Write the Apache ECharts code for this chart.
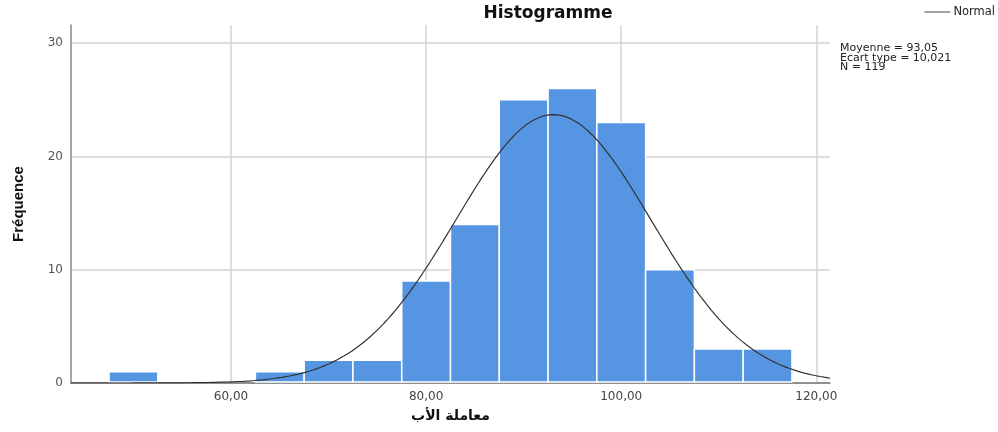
<!DOCTYPE html>
<html>
<head>
<meta charset="utf-8">
<script src="https://cdn.jsdelivr.net/npm/echarts@6/dist/echarts.min.js"></script>
<style>
  html, body { margin: 0; padding: 0; background: #fff; }
  #chart { width: 998px; height: 432px; }
</style>
</head>
<body>
<div id="chart"></div>
<script>
// Histogram bins (width 5) and their frequencies
const binStarts = [47.5, 52.5, 57.5, 62.5, 67.5, 72.5, 77.5, 82.5, 87.5, 92.5, 97.5, 102.5, 107.5, 112.5];
const binWidth = 5;
const frequencies = [1, 0, 0, 1, 2, 2, 9, 14, 25, 26, 23, 10, 3, 3];

// Fitted normal curve parameters
const mean = 93.05;
const stdDev = 10.021;
const sampleSize = 119;

// Axis tick labels
const xTicks = [60, 80, 100, 120];
const yTicks = [0, 10, 20, 30];

const xMin = 43.6, xMax = 121.4, yMax = 31.6;

const bars = binStarts.map((s, i) => [s, s + binWidth, frequencies[i]]);

// Normal density scaled to counts per bin
const curve = [];
for (let x = xMin; x <= xMax + 1e-9; x += 0.2) {
  const z = (x - mean) / stdDev;
  const y = sampleSize * binWidth / (stdDev * Math.sqrt(2 * Math.PI)) * Math.exp(-0.5 * z * z);
  curve.push([x, y]);
}

const fmt = v => v.toFixed(2).replace('.', ',');
const labelFont = 'DejaVu Sans, sans-serif';

const chart = echarts.init(document.getElementById('chart'), null, { renderer: 'canvas' });
chart.setOption({
  animation: false,
  backgroundColor: '#fff',
  textStyle: { fontFamily: labelFont },
  grid: { left: 71, right: 168, top: 25, bottom: 49 },
  title: {
    text: 'Histogramme',
    left: 543, top: 0, textAlign: 'center',
    textStyle: { fontSize: 17, fontWeight: 'bold', color: '#111', fontFamily: labelFont }
  },
  legend: {
    right: 3, top: 6, padding: 0,
    itemWidth: 26, itemHeight: 10, itemGap: 4,
    data: [{ name: 'Normal', icon: 'path://M0,4.4L26,4.4L26,5.6L0,5.6Z' }],
    itemStyle: { color: '#666' },
    textStyle: { fontSize: 11.5, color: '#222', fontFamily: labelFont, padding: [0, 0, 0, -2] }
  },
  graphic: [{
    type: 'text', left: 840, top: 43,
    style: {
      text: 'Moyenne = 93,05\nEcart type = 10,021\nN = 119',
      font: '11px DejaVu Sans, sans-serif',
      fill: '#222', lineHeight: 9.5
    }
  }],
  xAxis: {
    type: 'value', min: xMin, max: xMax,
    name: 'معاملة الأب', nameLocation: 'middle', nameGap: 26,
    nameTextStyle: { fontSize: 14, color: '#111', fontWeight: 'bold', fontFamily: 'DejaVu Sans, sans-serif' },
    axisLine: { show: true, lineStyle: { color: '#777', width: 1.5 } },
    axisTick: { show: false, customValues: xTicks },
    axisLabel: { customValues: xTicks, formatter: fmt, color: '#444', fontSize: 12, margin: 8 },
    splitLine: { show: true, lineStyle: { color: '#d3d3d3', width: 1.5 } }
  },
  yAxis: {
    type: 'value', min: 0, max: yMax,
    name: 'Fréquence', nameLocation: 'middle', nameGap: 45, nameRotate: 90,
    nameTextStyle: { fontSize: 15, color: '#111', fontWeight: 'bold', fontFamily: 'Liberation Sans, Arial, sans-serif' },
    axisLine: { show: true, lineStyle: { color: '#888', width: 1.5 } },
    axisTick: { show: false, customValues: yTicks },
    axisLabel: { customValues: yTicks, color: '#555', fontSize: 12, margin: 8 },
    splitLine: { show: true, lineStyle: { color: '#d3d3d3', width: 1.5 } }
  },
  series: [
    {
      name: 'Fréquence',
      type: 'custom',
      data: bars,
      encode: { x: [0, 1], y: 2 },
      renderItem: (params, api) => {
        if (api.value(2) <= 0) return null;
        const p0 = api.coord([api.value(0), 0]);
        const p1 = api.coord([api.value(1), api.value(2)]);
        return {
          type: 'rect',
          shape: { x: p0[0], y: p1[1], width: p1[0] - p0[0], height: p0[1] - p1[1] - 1 },
          style: { fill: '#5595e2', stroke: '#ffffff', lineWidth: 1.5 }
        };
      },
      z: 2
    },
    {
      name: 'Normal',
      type: 'line',
      data: curve,
      showSymbol: false,
      smooth: false,
      lineStyle: { color: '#333', width: 1.2 },
      itemStyle: { color: '#666' },
      z: 3
    }
  ]
});
</script>
</body>
</html>
